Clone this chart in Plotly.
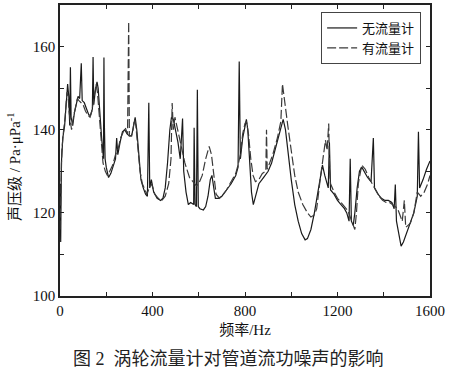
import plotly.graph_objects as go

# Series: 无流量计 (solid)
freq_a = [0, 3, 6, 12, 20, 28, 33, 38, 42, 45, 48, 55, 62, 70, 78, 85, 92, 96, 105, 115, 125, 132, 140, 143, 146,
          152, 160, 165, 172, 180, 188, 190, 192, 195, 200, 210, 220, 230, 240, 245, 250, 260, 270, 280, 290, 300,
          310, 318, 325, 332, 340, 350, 360, 370, 378, 384, 388, 395, 405, 420, 435, 445, 455, 465, 475, 482, 490,
          500, 510, 520, 530, 535, 545, 555, 565, 578, 580, 584, 590, 594, 598, 605, 620, 630, 640, 650, 657, 665,
          672, 685, 700, 720, 740, 760, 770, 775, 780, 790, 800, 806, 812, 820, 828, 836, 845, 860, 880, 900, 915,
          930, 945, 955, 965, 975, 985, 1000, 1015, 1030, 1045, 1060, 1070, 1085, 1100, 1115, 1128, 1135, 1145,
          1155, 1160, 1165, 1170, 1185, 1200, 1215, 1230, 1240, 1250, 1255, 1260, 1268, 1275, 1285, 1295, 1305,
          1315, 1330, 1345, 1355, 1360, 1375, 1390, 1405, 1420, 1435, 1445, 1450, 1455, 1465, 1475, 1485, 1500,
          1515, 1530, 1545, 1550, 1555, 1570, 1585, 1600]
level_a = [127, 113, 132, 138, 141, 147, 151, 148, 141, 155, 143, 141, 144, 146, 148, 147.5, 156, 147, 146.5, 145,
           143.5, 143.5, 145, 157.5, 146, 149, 151.5, 150, 143, 138, 133, 157.4, 141, 133, 131, 128.5, 129.5, 131,
           133, 138, 134, 137, 139.5, 140, 139, 138.5, 138.5, 141, 143, 140, 134, 128, 126, 124.5, 124, 146.5,
           126, 128, 125, 123.5, 123, 123.5, 126, 132, 140, 143, 142.5, 140, 137, 133, 142.7, 130, 125, 122,
           122.5, 122, 140.5, 122, 121.5, 149.6, 121.5, 121, 120.7, 121.5, 124, 128, 129, 126, 123.5, 123.5, 124,
           125.5, 127, 129, 131, 156.4, 133, 138, 141, 142.5, 140, 132, 125, 122, 124, 127, 128.5, 130, 132, 135,
           138, 140.5, 142.5, 140, 135, 128, 122, 118, 115, 113.5, 113.8, 116, 120, 125, 130, 131.5, 129, 127,
           126, 137, 125.5, 124.5, 123, 122, 121, 120, 118, 133, 118, 117, 120, 126, 130, 131, 130, 128.5, 127.5,
           138, 126, 124.5, 123.5, 123, 123, 122.5, 121, 126.8, 118, 115, 112, 113, 115.5, 117.5, 120, 124, 139.5,
           126, 128, 130.5, 132.5]

# Series: 有流量计 (dashed)
freq_b = [0, 4, 8, 14, 22, 30, 35, 40, 44, 50, 58, 66, 75, 82, 90, 100, 110, 120, 130, 138, 148, 156, 162, 170, 178,
          186, 196, 205, 215, 228, 240, 252, 262, 272, 282, 292, 297, 300, 308, 316, 322, 328, 336, 346, 356, 366,
          376, 386, 396, 410, 425, 440, 455, 470, 480, 485, 490, 497, 505, 520, 540, 560, 580, 590, 600, 615, 630,
          645, 655, 665, 675, 690, 700, 720, 740, 760, 770, 780, 790, 800, 806, 815, 825, 835, 845, 860, 875, 890,
          893, 896, 900, 920, 940, 955, 962, 968, 975, 985, 1000, 1015, 1030, 1050, 1070, 1085, 1100, 1110, 1125,
          1140, 1148, 1155, 1162, 1166, 1170, 1185, 1200, 1215, 1230, 1245, 1255, 1265, 1275, 1282, 1290, 1305,
          1320, 1335, 1350, 1365, 1380, 1395, 1410, 1425, 1440, 1450, 1460, 1470, 1480, 1489, 1495, 1505, 1515,
          1530, 1545, 1560, 1575, 1590, 1600]
level_b = [116, 128, 135, 139, 143, 149, 148, 144, 142, 140, 143, 145.5, 147.5, 147, 146.5, 146, 144.5, 143.5, 143,
           144.5, 148, 151, 149, 143, 137, 132, 130, 129, 130, 131.5, 134, 135.5, 138, 139.5, 140.5, 139, 166,
           138.5, 138.5, 140, 142.5, 141, 136, 130, 127, 125.5, 124.5, 126, 127, 124.5, 123.5, 123, 124, 127, 133,
           146.4, 140, 143, 141, 137, 132, 128.5, 127, 126.5, 127, 129, 133, 136, 134, 129, 124.5, 123.5, 124,
           125.5, 127.5, 129.5, 131.5, 134, 139, 141.5, 142, 139, 133, 129, 127.5, 128, 129.5, 130, 140, 130.5,
           131, 134, 138, 142, 151, 148, 146, 141, 135, 129, 125, 122, 120, 119, 119.5, 121, 128, 135, 137.5, 135,
           141.5, 130, 127, 125, 123.5, 122.5, 121.5, 120.5, 119, 117.5, 116, 120, 127, 131.5, 130.5, 128.5, 127,
           125.5, 124, 123, 122.5, 122.5, 122, 121.5, 121, 119.5, 118, 123, 116.5, 117, 117.5, 120, 125, 124,
           125, 127, 129]

FONT = "Liberation Serif, Noto Sans CJK SC, serif"

fig = go.Figure()
fig.add_trace(go.Scatter(x=freq_a, y=level_a, mode="lines", name="无流量计",
                         line=dict(color="#1a1a1a", width=1.2)))
fig.add_trace(go.Scatter(x=freq_b, y=level_b, mode="lines", name="有流量计",
                         line=dict(color="#3a3a3a", width=1.2, dash="9px,3px")))

axis_common = dict(showline=True, linecolor="#222", linewidth=1.5, mirror="ticks", ticks="inside",
                   ticklen=4, tickcolor="#222", showgrid=False, zeroline=False,
                   tickfont=dict(family=FONT, size=15, color="#111"))

fig.update_xaxes(range=[0, 1600], tick0=0, dtick=400,
                 minor=dict(ticks="inside", ticklen=4, tickcolor="#222", dtick=200, showgrid=False),
                 title=dict(text="频率/Hz", font=dict(family=FONT, size=15, color="#111"), standoff=7),
                 automargin=False, **axis_common)
fig.update_yaxes(range=[100, 170], tick0=100, dtick=20,
                 minor=dict(ticks="inside", ticklen=4, tickcolor="#222", dtick=10, showgrid=False),
                 automargin=False, **axis_common)

fig.update_layout(
    width=451, height=373,
    margin=dict(l=60, r=21, t=5, b=77),
    paper_bgcolor="white", plot_bgcolor="white",
    font=dict(family=FONT, color="#111"),
    legend=dict(x=0.976, y=0.976, xanchor="right", yanchor="top",
                bgcolor="white", bordercolor="#444", borderwidth=1,
                font=dict(family=FONT, size=13, color="#111"),
                tracegroupgap=0, itemwidth=30),
    annotations=[
        dict(text="声压级 / Pa·μPa<sup>-1</sup>", xref="paper", yref="y", x=-0.125, y=131,
             xanchor="center", yanchor="middle", textangle=-90, showarrow=False,
             font=dict(family=FONT, size=15, color="#111")),
        dict(text="图 2  涡轮流量计对管道流功噪声的影响", xref="paper", yref="paper",
             x=0.455, y=-0.215, xanchor="center", yanchor="middle", showarrow=False,
             font=dict(family=FONT, size=18, color="#222")),
    ],
)

fig.write_html("out.html", config={"displayModeBar": False},
               post_script="document.body.style.margin='0';")
